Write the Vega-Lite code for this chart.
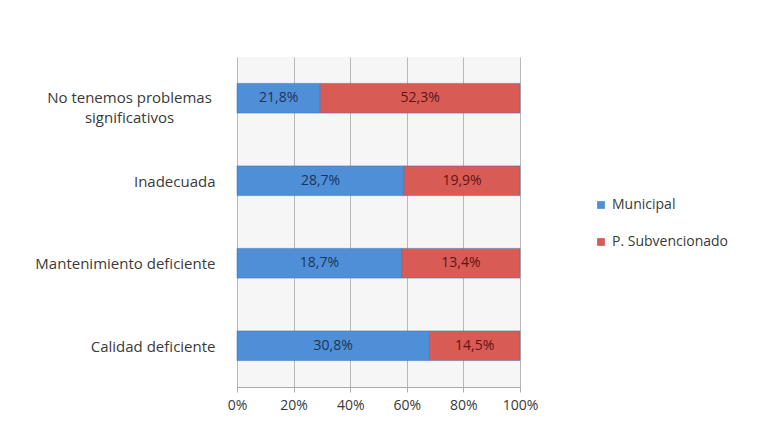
{
  "$schema": "https://vega.github.io/schema/vega-lite/v6.json",
  "width": 283,
  "height": 330,
  "autosize": {"type": "none"},
  "padding": {"left": 237, "top": 57, "right": 244, "bottom": 36},
  "background": "white",
  "config": {
    "font": "Open Sans",
    "view": {"fill": "#f6f6f6", "stroke": null}
  },
  "data": {
    "values": [
      {"cat": "No tenemos problemas significativos", "serie": "Municipal", "value": 21.8},
      {"cat": "No tenemos problemas significativos", "serie": "P. Subvencionado", "value": 52.3},
      {"cat": "Inadecuada", "serie": "Municipal", "value": 28.7},
      {"cat": "Inadecuada", "serie": "P. Subvencionado", "value": 19.9},
      {"cat": "Mantenimiento deficiente", "serie": "Municipal", "value": 18.7},
      {"cat": "Mantenimiento deficiente", "serie": "P. Subvencionado", "value": 13.4},
      {"cat": "Calidad deficiente", "serie": "Municipal", "value": 30.8},
      {"cat": "Calidad deficiente", "serie": "P. Subvencionado", "value": 14.5}
    ]
  },
  "transform": [
    {"stack": "value", "groupby": ["cat"], "offset": "normalize", "sort": [{"field": "serie"}], "as": ["v0", "v1"]},
    {"calculate": "(datum.v0 + datum.v1) / 2", "as": "vmid"},
    {"calculate": "replace(format(datum.value, '.1f'), '.', ',') + '%'", "as": "label"}
  ],
  "encoding": {
    "y": {
      "field": "cat",
      "type": "nominal",
      "sort": ["No tenemos problemas significativos", "Inadecuada", "Mantenimiento deficiente", "Calidad deficiente"],
      "scale": {"paddingInner": 0.64, "paddingOuter": 0.32},
      "axis": {
        "title": null,
        "domain": false,
        "ticks": false,
        "labelPadding": {"condition": {"test": "datum.value == 'No tenemos problemas significativos'", "value": 108}, "value": 22},
        "labelAlign": {"condition": {"test": "datum.value == 'No tenemos problemas significativos'", "value": "center"}, "value": "right"},
        "labelFontSize": 15,
        "labelColor": "#3a3a3a",
        "labelLimit": 230,
        "labelLineHeight": 20,
        "labelOffset": {"condition": {"test": "datum.value == 'No tenemos problemas significativos'", "value": 0}, "value": 1},
        "labelExpr": "datum.value == 'No tenemos problemas significativos' ? ['No tenemos problemas', 'significativos'] : datum.value"
      }
    }
  },
  "layer": [
    {
      "mark": {"type": "bar", "stroke": "#3a6ea8", "strokeWidth": 0.5},
      "encoding": {
        "x": {
          "field": "v0",
          "type": "quantitative",
          "scale": {"domain": [0, 1]},
          "axis": {
            "title": null,
            "format": ".0%",
            "values": [0, 0.2, 0.4, 0.6, 0.8, 1],
            "grid": true,
            "gridColor": "#b8b8b8",
            "domainColor": "#aaaaaa",
            "tickColor": "#aaaaaa",
            "labelFontSize": 14,
            "labelColor": "#3a3a3a",
            "labelFlush": false,
            "labelPadding": 6
          }
        },
        "x2": {"field": "v1"},
        "color": {
          "field": "serie",
          "type": "nominal",
          "scale": {"domain": ["Municipal", "P. Subvencionado"], "range": ["#4f8fd8", "#d95b56"]},
          "legend": {
            "title": null,
            "orient": "none",
            "legendX": 357,
            "legendY": 141,
            "symbolType": "square",
            "symbolSize": 60,
            "symbolStrokeWidth": 0,
            "labelFontSize": 14,
            "labelColor": "#3a3a3a",
            "rowPadding": 23,
            "labelOffset": 4
          }
        }
      }
    },
    {
      "mark": {"type": "text", "fontSize": 14},
      "encoding": {
        "x": {"field": "vmid", "type": "quantitative"},
        "text": {"field": "label"},
        "color": {
          "condition": {"test": "datum.serie == 'Municipal'", "value": "#1c3558"},
          "value": "#5e1512"
        }
      }
    }
  ]
}
